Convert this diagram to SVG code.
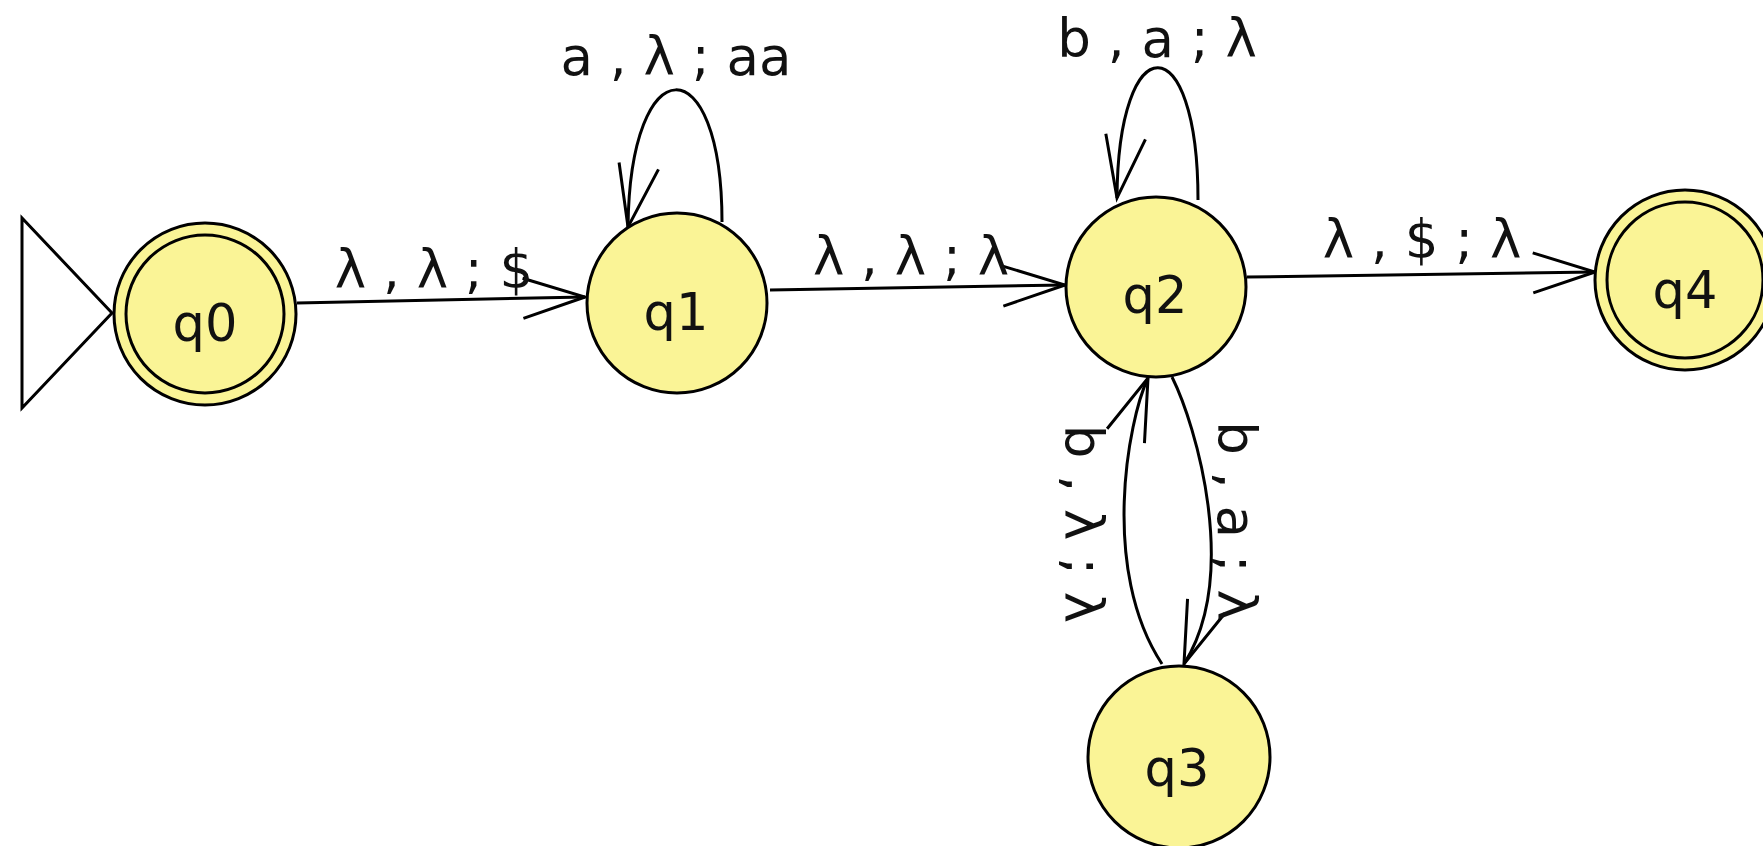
<svg xmlns="http://www.w3.org/2000/svg" xmlns:xlink="http://www.w3.org/1999/xlink" width="1763" height="846" viewBox="0 0 1763 846">
<style>
.st{fill:#FAF496;stroke:#000;stroke-width:3}
.nt{font-family:"DejaVu Sans",sans-serif;font-size:51px;text-anchor:middle;fill:#111}
.lb{font-family:"DejaVu Sans",sans-serif;font-size:53px;text-anchor:middle;fill:#111}
.edge{fill:none;stroke:#000;stroke-width:3}
</style>
<defs>
<path id="ah" d="M -62,-20 L 0,0 L -62,20" class="edge"/>
</defs>
<rect width="1763" height="846" fill="#fff"/>
<g id="edges">
<path class="edge" d="M 297,303 L 585,297"/>
<use xlink:href="#ah" href="#ah" transform="translate(585,297) rotate(-1.2)"/>
<text class="lb" x="434" y="288">λ , λ ; $</text>
<path class="edge" d="M 770,290 L 1065,285"/>
<use xlink:href="#ah" href="#ah" transform="translate(1065,285) rotate(-1)"/>
<text class="lb" x="911" y="275">λ , λ ; λ</text>
<path class="edge" d="M 1247,277 L 1595,272"/>
<use xlink:href="#ah" href="#ah" transform="translate(1595,272) rotate(-0.8)"/>
<text class="lb" x="1422" y="258">λ , $ ; λ</text>
<path class="edge" d="M 722,222 C 722,45 630,45 628,227"/>
<use xlink:href="#ah" href="#ah" transform="translate(628,227) rotate(100)"/>
<text class="lb" x="676" y="75">a , λ ; aa</text>
<path class="edge" d="M 1198,200 C 1198,24 1118,24 1117,198"/>
<use xlink:href="#ah" href="#ah" transform="translate(1117,198) rotate(98)"/>
<text class="lb" x="1157" y="57">b , a ; λ</text>
<path class="edge" d="M 1162,664 C 1100,570 1128,420 1148,378"/>
<use xlink:href="#ah" href="#ah" transform="translate(1148,378) rotate(-69)"/>
<text class="lb" transform="translate(1065,524) rotate(90)">b , λ ; λ</text>
<path class="edge" d="M 1172,377 C 1196,425 1240,575 1184,664"/>
<use xlink:href="#ah" href="#ah" transform="translate(1184,664) rotate(111)"/>
<text class="lb" transform="translate(1218,521) rotate(90)">b , a ; λ</text>
</g>
<g id="q0">
<polygon points="22,218 22,408 112,313" fill="#fff" stroke="#000" stroke-width="3"/>
<circle class="st" cx="205" cy="314" r="91"/>
<circle class="st" cx="205" cy="314" r="79"/>
<text class="nt" x="205" y="341">q0</text>
</g>
<g id="q1">
<circle class="st" cx="677" cy="303" r="90"/>
<text class="nt" x="676" y="330">q1</text>
</g>
<g id="q2">
<circle class="st" cx="1156" cy="287" r="90"/>
<text class="nt" x="1155" y="313">q2</text>
</g>
<g id="q3">
<circle class="st" cx="1179" cy="757" r="91"/>
<text class="nt" x="1177" y="786">q3</text>
</g>
<g id="q4">
<circle class="st" cx="1685" cy="280" r="90"/>
<circle class="st" cx="1685" cy="280" r="78"/>
<text class="nt" x="1685" y="308">q4</text>
</g>
</svg>
